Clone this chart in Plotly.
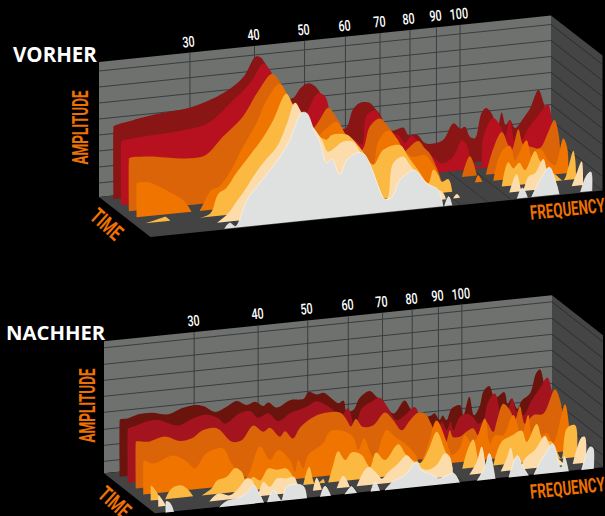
import math
import plotly.graph_objects as go

# Frequency ticks (Hz) and axis span
FREQ_TICKS = [30, 40, 50, 60, 70, 80, 90, 100]
FREQ_MIN, FREQ_MAX = 20, 150

# Amplitude grid levels
V_GRID = [14, 30, 46, 62, 78, 94, 110, 126]
N_GRID = [12, 28, 44, 61, 77, 93, 109, 125.5]

# Time slices, back to front
V_TIME = [.085, .235, .385, .535, .685, .835, .985]
N_TIME = [.11, .26, .41, .56, .71, .86, 1.01]

# Each spectrum: (log-frequency bin, amplitude)
V0 = [(10,0),(10.3,73),(23,76),(53,81),(87,84),(120,95),(140,109),(152,128),(157,127),(162,120),(182,82),(190,83),(197,92),(205,96),(213,91),(220,78),(232,51),(242,47),(250,66),(258,71.5),(266.6,70),(271.6,64),(277,57),(285,41),(290,40),(300,42),(305,34),(314,33),(322,24),(339,25),(350,41),(357,35),(361.6,36.5),(366.6,26),(371.6,24),(378,48),(382.6,53),(388.3,47),(394,31.5),(398.3,47),(402.3,34),(406.6,38.5),(411.6,30),(420,39),(426.6,48),(435,65.6),(440,53),(446.6,27),(452,0)]
V1 = [(10,0),(10.3,64),(22,66),(62,68),(96,73),(119,91),(139,109),(152,127),(157,123),(174,88),(189,62),(195.6,73),(202,86),(207,92),(214,88),(219,72),(229,48),(244,41),(250.6,36),(255.6,65),(264,69),(269,62),(274,50),(279,45),(287,42),(294,33),(300.6,40),(305.6,35),(312,24),(322,16.5),(330.6,9),(342,14.5),(350.6,30),(355.6,25),(360.6,9),(369,2),(372,30),(382,49),(390.6,38),(394,29),(399,45),(404,23),(410.6,24),(417,35),(429,49),(436.6,57),(440.6,43),(447,3),(452,0)]
V2 = [(10,0),(10.3,53),(28,53),(68,47),(86,48),(104,65),(124,83),(138,105),(153,123),(158,119),(176,84),(193,64),(199.5,70),(209.5,83),(218,71.6),(221,66.6),(231,38),(243,37),(251,60),(261,67),(269.5,58),(278,44),(282,28),(288,33),(299.5,40.6),(306,32.6),(311,27),(318,11.6),(322,0),(343,0),(351,20),(358,0),(367,0),(373,21),(383,41),(389.5,27),(393,22),(399.5,42),(404.5,26),(413,23),(421,21),(429.5,36.5),(435.5,47.5),(440,32),(441.7,0)]
V3 = [(10,0),(10.3,34),(22,34),(30,30),(43,22),(57,12),(65,0),(73,0),(76,5),(85,20),(92,22),(103,35),(115,57),(130,82),(140,104),(153,119),(160,109),(173,75),(188,54),(193.4,63.5),(200,69.5),(210,75),(218.4,62.6),(228,40),(238,22),(246.7,28),(251.7,51),(261.7,61),(270,52.6),(278.4,38),(286.7,32),(298.4,32.7),(306.7,22),(314.4,6),(318,0),(348.4,0),(351.7,7),(355.7,0),(366.7,0),(375,28),(383.4,33),(388.4,18),(391.7,23),(400,37),(405,20),(408.4,26),(415,26),(421.4,15),(428.4,9),(436.7,35),(440.7,25),(441.7,0)]
V4 = [(11,0),(27,3.6),(31,4.5),(36,0),(65,0),(76,3),(84,22),(92,27),(102,41),(112,53),(129,74),(139,90),(152,115),(159,103),(178,75),(192.4,65),(197.4,69),(212.4,68),(219,62),(227.4,51),(239,35),(249,49),(265.7,52),(274,39.5),(284,25),(294,11),(299,24),(304,18),(307.4,11),(314,13),(318,0),(367.4,0),(374,23.6),(379,17),(385,22),(390.7,14),(400.7,32),(405.7,22),(413.7,12),(421.7,6),(429,0),(434.7,15),(439,28.5),(441,19),(441.7,0)]
V5 = [(75,0),(86,8),(95,20),(103,30),(111,42),(121,55),(135,70),(145,92),(153,112),(160,101),(173,83),(180,72),(186,59.5),(193,63),(201,68),(211,67),(219,55),(225,47),(231,35),(238,16),(243,6),(246,8),(251,41),(261,47),(268,38),(278,24),(295,11),(301,7),(304,0),(311,0),(315,4),(318,0),(367.3,0),(374.7,17.5),(380,0),(382,3),(386.3,14),(393,16.6),(401.3,30),(405.3,17),(410,8),(416,0),(429.7,0),(434,11),(439.7,24),(441,0)]
V6 = [(75,0),(80,5),(86,1),(97,26),(110,42),(130,66),(140,82),(152,108),(157,107),(163.6,91),(170,77),(177,55),(182,59),(190,42.5),(197,56),(207,62),(213.6,61),(222,45),(228,28),(235,13),(242,14),(250,30.6),(257,36),(265,39),(277,24.6),(288.6,16.7),(293,0),(295,0),(299,9),(302,0),(367.6,0),(372.6,10),(377.6,0),(382,0),(390.3,16),(399.6,28),(405.3,14.6),(409.3,0),(431,0),(437,16),(441,19),(442,0)]

N0 = [(10,0),(10.3,57),(18.7,57.5),(28.7,60.4),(42,60.7),(58.7,57.4),(72,62),(85.4,64),(93.7,62),(105.4,55),(117,59),(127,63.6),(137,58.6),(145.4,61),(153.7,56),(158.7,59),(167,53),(180.4,59),(194,59),(199,65.5),(207,62),(214,63),(222,56.5),(229,51),(234,53),(237,42),(244,43),(250,54),(260,60),(267,53.5),(275,46),(284,35),(295,47),(301,38),(310,28),(322,29.5),(325,31),(330,24),(333,28),(337,23),(342,34),(350.4,36.6),(353.7,26),(359.7,44),(364.4,25),(370.4,34.5),(373.7,47.5),(379.7,52.6),(385.4,40),(394.7,45),(398,33),(402,38),(407.7,27),(412.4,35),(420.4,41),(426.4,60.5),(430.4,64),(434.4,50),(440.4,27),(447.4,0)]
N1 = [(10.4,0),(10.7,54),(17.7,56),(31,59.5),(41,59.5),(61,52),(76,57.6),(89.4,60),(101,55),(107.7,49),(122.7,58),(132.7,59),(141,51.5),(151,55),(161,46),(172.7,52.6),(189.4,57.5),(199.4,62),(214.4,53),(222.7,44),(231,51.6),(237.7,32.5),(244.4,50),(253.7,55.6),(262.7,59),(272.7,44),(279.4,35),(287.7,39),(297.7,46),(302.7,36),(312.7,21),(321,20.6),(324.4,28.6),(329.4,20),(333.4,28),(336,19),(342.7,31.7),(349.4,34),(356,30),(361,23),(366,26),(371,44),(377.7,51.5),(384.4,29),(388.7,28),(395,45),(398.7,32.6),(406,27),(414.4,41),(422.7,52),(430,62),(434.4,49),(439.7,23),(445.7,0)]
N2 = [(10.8,0),(11.1,47),(23.4,45.6),(40,49),(55,43),(67,44.5),(78.4,51.6),(92,52),(107,37),(117,37.7),(128.4,51),(138.4,43.7),(145,47),(155,37),(160,42),(168,34),(175,44),(186.8,52.5),(198.4,56),(215,55),(221.8,47),(226,40),(231,47),(237.8,38.5),(248.4,39),(260,50.6),(268.4,42),(276.8,31),(285,40),(293.4,47),(300,45.5),(308.4,29.6),(313,19.5),(320,12),(325,26),(328,19),(335,18.5),(341.8,23),(348.4,25.5),(353.4,18),(360,32.6),(368.4,20),(371.8,30),(378.4,47),(385,40),(390,29.5),(395,43),(400,25),(408.4,32.6),(418.4,33),(430,56),(436,41.5),(439,4.5),(440,0)]
N3 = [(10.7,0),(11,33.6),(20.7,30),(40.7,36),(52.4,30),(62.4,21),(74,35),(90.7,38),(99,22),(113,6),(127.4,36),(137.4,21.5),(145.7,30.7),(157.4,19.5),(162.4,7),(165.7,18.6),(170.7,10),(175.7,22.6),(190.7,33),(197.4,44),(210.7,43),(220.7,36),(225.7,22.5),(231.4,33.6),(239,16),(242.4,13),(254,39.5),(262.4,32),(272.4,24),(282.4,13),(287.4,3),(295.4,20),(304,44),(314,22),(319.4,8),(327.4,14),(332.4,26.5),(339,17.5),(344,22),(352.4,41),(357.4,15.6),(362.4,23),(370.7,22.5),(380.7,41.5),(389,20.6),(395.7,40),(400.7,14),(414,20),(420.7,9.4),(432.4,47),(436.4,26),(438.4,0)]
N4 = [(10.5,0),(10.8,15),(16.5,8),(20,0),(25,0),(31.5,10),(41.5,12),(48,7),(53,0),(61.5,0),(71.5,6),(76.5,13),(86.5,16),(95,24),(101.5,19.5),(106.5,8),(113,13),(120,9),(128,20),(136.5,18),(146.5,18),(153,9),(158,0),(163,0),(169,17.6),(174.8,0),(179.8,1.5),(183,4),(184.8,0),(188,0),(193,17),(198,30),(204.8,20.6),(211.5,27.6),(221.5,24),(229.8,11),(235.8,25),(244.8,16.5),(258,31),(266.5,19),(279.8,10),(288,22),(296.5,39.5),(304.8,20),(310,8),(313,0),(322,0),(328,20),(333,28),(338,7),(340,0),(353,0),(361.5,23),(371.5,28),(381.5,32),(386.5,20),(396.5,37),(403,20),(411.5,17.6),(421,0),(426.5,29.5),(434.8,32),(436.5,0)]
N5 = [(10.4,0),(10.7,11.6),(16,4),(18,0),(61.4,0),(70.4,7),(82,4),(90.4,10),(99,19),(104,17),(110,3),(115.4,14),(122,8.4),(129,16),(139,15),(146,16),(150,7),(152,0),(165,0),(168.8,12.6),(174,0),(188.8,0),(195.4,12),(202,0),(208.8,0),(220.4,18),(230.4,9),(233.8,5),(240.4,11),(250.4,18.6),(258.8,26),(267,17),(278.8,9),(288.8,13),(297,24),(302,20),(305.4,0),(321.4,0),(328.8,12),(333.8,27),(337,13),(338,0),(352.8,0),(358.8,12.4),(362.8,23),(367,8),(372,2),(377,10.6),(387,18),(397,31),(402,21),(408,10),(417,0),(424.8,0),(433.8,26),(437,26),(438,0)]
N6 = [(10.5,0),(10.8,11),(14.5,9),(18,0),(64,0),(71,5),(81,7),(91,11),(98,18.6),(103,11),(108,0),(112,0),(118,11.5),(123,4),(126,0),(131,13.5),(141,15),(148,12),(151,0),(165,0),(169.5,10),(175,0),(189.5,0),(194.5,6),(196,7),(201,0),(215.5,0),(219.5,9),(224,0),(229.5,0),(237.8,8),(249.5,13),(261.2,25),(266.2,16),(277.8,10),(282.8,6),(290.5,8),(297.8,10),(303.8,0),(321.8,0),(329.5,13),(333.8,26),(339.5,0),(353.5,0),(361.8,21),(366.5,11),(372.8,0),(378.5,0),(384.5,12),(390.5,21),(397.2,29),(401.5,17),(404.5,5),(406.5,5),(408.8,15),(412.8,0),(426.2,0),(434.5,22),(437.2,21),(437.8,0)]

V_COLORS = ["#8a1515", "#b7101f", "#dc6408", "#ef7500", "#fcb941", "#fddcab", "#dfe1e0"]
N_COLORS = ["#6b130d", "#a3141f", "#dc6408", "#ef7500", "#fcb941", "#fddcab", "#dfe1e0"]

WALL = "#6f716e"
SIDE = "#454545"
FLOOR = "#434343"
GRID = "#3a3d42"
ORANGE = "#ee7203"
NARROW = "Roboto"

fig = go.Figure()


def panel(x0, y0, width, rise, dx, dy, height, grid, times, layers, colors, title, title_x, title_y, title_size, labels):
    def px(b, t, a):
        return x0 + b + t * dx, y0 - rise * b / width + t * dy - a

    def poly(points, color):
        xs, ys = zip(*points)
        fig.add_trace(go.Scatter(x=xs, y=ys, mode="lines", fill="toself", fillcolor=color,
                                 line=dict(width=0), hoverinfo="skip"))

    def seg(a, b, color, w=1):
        fig.add_trace(go.Scatter(x=[a[0], b[0]], y=[a[1], b[1]], mode="lines",
                                 line=dict(color=color, width=w), hoverinfo="skip"))

    poly([px(0, 0, 0), px(width, 0, 0), px(width, 0, height), px(0, 0, height)], WALL)
    poly([px(width, 0, 0), px(width, 1, 0), px(width, 1, height), px(width, 0, height)], SIDE)
    poly([px(0, 0, 0), px(width, 0, 0), px(width, 1, 0), px(0, 1, 0)], FLOOR)

    for a in grid:
        seg(px(0, 0, a), px(width, 0, a), GRID)
        seg(px(width, 0, a), px(width, 1, a), "#2c2d30")

    span = math.log(FREQ_MAX / FREQ_MIN)
    for f in FREQ_TICKS:
        b = width * math.log(f / FREQ_MIN) / span
        seg(px(b, 0, 0), px(b, 0, height), GRID)
        seg(px(b, 0, 0), px(b, 1, 0), "#333333")
        tx, ty = px(b, 0, height)
        fig.add_annotation(x=tx - 1, y=ty - 11, text=str(f), showarrow=False, textangle=-6,
                           font=dict(family=NARROW, size=15, color="white", weight=500))

    for t, spec, color in zip(times, layers, colors):
        xs, ys = [], []
        for i, (b, a) in enumerate(spec):
            # a near-vertical opening edge stays straight under the spline
            if i > 0 and spec[i - 1][1] == 0 and b - spec[i - 1][0] < 0.5:
                X, Y = px(spec[i - 1][0], t, a - 2)
                xs.append(X)
                ys.append(Y)
            X, Y = px(b, t, a)
            xs.append(X)
            ys.append(Y)
            if a == 0 and i + 1 < len(spec) and spec[i + 1][1] == 0:
                xs.append(None)
                ys.append(None)
        outline = color == "#dfe1e0"
        fig.add_trace(go.Scatter(x=xs, y=ys, mode="lines", fill="toself", fillcolor=color,
                                 line=dict(shape="spline", smoothing=1.0,
                                           color="#f6f1e6" if outline else color,
                                           width=0.8 if outline else 0),
                                 hoverinfo="skip"))

    fig.add_annotation(x=title_x, y=title_y, text=title, showarrow=False,
                       font=dict(family="Open Sans", size=title_size, color="white", weight="bold"))
    for text, lx, ly, ang, size in labels:
        fig.add_annotation(x=lx, y=ly, text=text, showarrow=False, textangle=ang,
                           font=dict(family=NARROW, size=size, color=ORANGE, weight="bold"))


panel(99, 197, 452, 46.5, 51.5, 40, 135, V_GRID, V_TIME,
      [V0, V1, V2, V3, V4, V5, V6], V_COLORS, "VORHER", 55, 53.5, 20.5,
      [("AMPLITUDE", 80, 128, -90, 22), ("TIME", 107, 224, 42, 22), ("FREQUENCY", 567, 209, -6, 20)])
panel(104, 473.3, 448, 46, 51, 40, 132, N_GRID, N_TIME,
      [N0, N1, N2, N3, N4, N5, N6], N_COLORS, "NACHHER", 56, 332, 20.3,
      [("AMPLITUDE", 87, 406, -90, 22), ("TIME", 115, 502, 42, 22), ("FREQUENCY", 567, 488, -6, 20)])

fig.update_layout(
    width=605, height=516, margin=dict(l=0, r=0, t=0, b=0),
    paper_bgcolor="black", plot_bgcolor="black", showlegend=False,
    xaxis=dict(range=[0, 605], visible=False, fixedrange=True),
    yaxis=dict(range=[516, 0], visible=False, fixedrange=True),
)

SQUEEZE = """
document.body.style.margin='0';document.body.style.background='black';
var widths={AMPLITUDE:74,TIME:35,FREQUENCY:75};
document.querySelectorAll('.annotation-text').forEach(function(el){
  var s=el.textContent, w=widths[s];
  if(!w && /^[0-9]+$/.test(s)){w=el.getComputedTextLength()*0.72;}
  if(w){el.setAttribute('textLength',w);el.setAttribute('lengthAdjust','spacingAndGlyphs');}
});
"""
fig.write_html("out.html", config={"displayModeBar": False}, post_script=SQUEEZE)
